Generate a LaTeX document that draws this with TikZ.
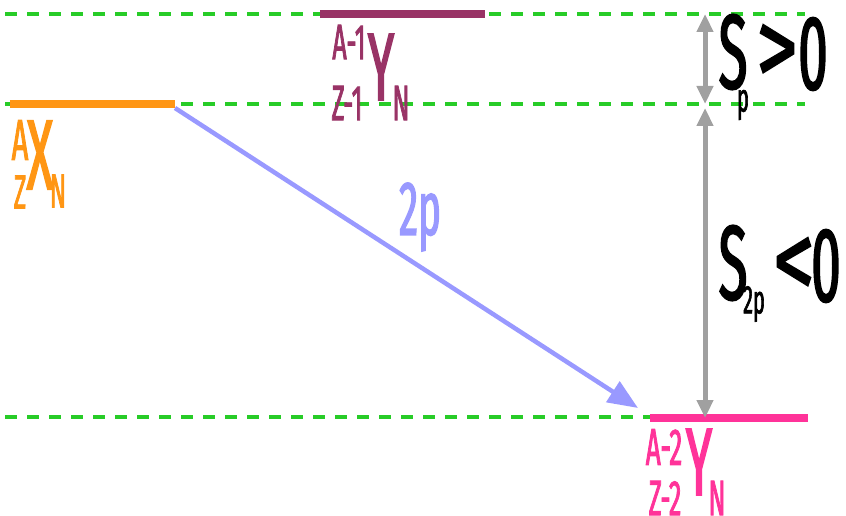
\documentclass[tikz,border=0pt]{standalone}
\usepackage{fontspec}
\usetikzlibrary{arrows.meta}
\newfontfamily\cf[FakeStretch=0.5,FakeBold=1.5]{Fira Sans}
\newfontfamily\cfw[FakeStretch=0.75,FakeBold=1.5]{Fira Sans}
\definecolor{lvlgreen}{RGB}{40,204,40}
\definecolor{xorange}{RGB}{255,150,20}
\definecolor{ypurple}{RGB}{153,51,102}
\definecolor{ypink}{RGB}{255,51,153}
\definecolor{arrblue}{RGB}{153,153,255}
\definecolor{arrgray}{RGB}{160,160,160}
\begin{document}
\begin{tikzpicture}[x=1pt,y=-1pt,
  level/.style={lvlgreen,line width=4pt,dash pattern=on 12pt off 10pt},
  bar/.style={line width=8.5pt},
  lab/.style={inner sep=0pt,font=\cf},
  gap/.style={arrgray,line width=5pt,{Triangle[length=18pt,width=16pt]}-{Triangle[length=18pt,width=16pt]}}]
\useasboundingbox (0,0) rectangle (846,516);
% levels
\coordinate (l1a) at (5,14);   \coordinate (l1b) at (805,14);
\coordinate (l2a) at (5,104);  \coordinate (l2b) at (805,104);
\coordinate (l3a) at (5,417);  \coordinate (l3b) at (650,417);
\draw[level] (l1a) -- (l1b);
\draw[level] (l2a) -- (l2b);
\draw[level] (l3a) -- (l3b);
% bars
\coordinate (xa) at (10,104); \coordinate (xb) at (175,104);
\coordinate (ya) at (320,14); \coordinate (yb) at (485,14);
\coordinate (za) at (650,418); \coordinate (zb) at (808,418);
\draw[bar,xorange] (xa) -- (xb);
\draw[bar,ypurple] (ya) -- (yb);
\draw[bar,ypink] (za) -- (zb);
% blue arrow
\coordinate (bs) at (175,108);
\coordinate (be) at (638,408);
\draw[arrblue,line width=4.5pt,-{Triangle[length=30pt,width=24pt]}] (bs) -- (be);
\node[lab,text=arrblue,font=\cf\fontsize{77}{77}\selectfont] (twop) at (420,217) {2p};
% gray arrows
\coordinate (g1) at (705,14); \coordinate (g2) at (705,104);
\coordinate (g3) at (705,108); \coordinate (g4) at (705,418);
\draw[gap] (g1) -- (g2);
\draw[gap] (g3) -- (g4);
% S labels
\node[lab,font=\cf\fontsize{106}{106}\selectfont] (s1) at (733,52) {S};
\node[lab,font=\cf\fontsize{40}{40}\selectfont] (p1) at (743,105) {p};
\node[lab,font=\cfw\fontsize{110}{110}\selectfont] (gt) at (777,55) {>};
\node[lab,font=\cf\fontsize{106}{106}\selectfont] (z1) at (813,54) {0};
\node[lab,font=\cf\fontsize{106}{106}\selectfont] (s2) at (733,263) {S};
\node[lab,font=\cf\fontsize{40}{40}\selectfont] (p2) at (754,304) {2p};
\node[lab,font=\cfw\fontsize{110}{110}\selectfont] (lt) at (794,268) {<};
\node[lab,font=\cf\fontsize{106}{106}\selectfont] (z2) at (826,266) {0};
% X nucleus
\node[lab,text=xorange,font=\cf\fontsize{58}{58}\selectfont] (xA) at (20,140) {A};
\node[lab,text=xorange,font=\cf\fontsize{100}{100}\selectfont] (xX) at (40,155) {X};
\node[lab,text=xorange,font=\cf\fontsize{48}{48}\selectfont] (xZ) at (20,192) {Z};
\node[lab,text=xorange,font=\cf\fontsize{48}{48}\selectfont] (xN) at (58,191) {N};
% Y (A-1)
\node[lab,text=ypurple,font=\cf\fontsize{50}{50}\selectfont] (yA) at (349,42) {A-1};
\node[lab,text=ypurple,font=\cf\fontsize{96}{96}\selectfont] (yY) at (381,67) {Y};
\node[lab,text=ypurple,font=\cf\fontsize{50}{50}\selectfont] (yZ) at (347,103) {Z-1};
\node[lab,text=ypurple,font=\cf\fontsize{50}{50}\selectfont] (yN) at (401,103) {N};
% Y (A-2)
\node[lab,text=ypink,font=\cf\fontsize{52}{52}\selectfont] (zA) at (664,447) {A-2};
\node[lab,text=ypink,font=\cf\fontsize{96}{96}\selectfont] (zY) at (699,462) {Y};
\node[lab,text=ypink,font=\cf\fontsize{50}{50}\selectfont] (zZ) at (665,498) {Z-2};
\node[lab,text=ypink,font=\cf\fontsize{50}{50}\selectfont] (zN) at (717,498) {N};
\end{tikzpicture}
\end{document}
